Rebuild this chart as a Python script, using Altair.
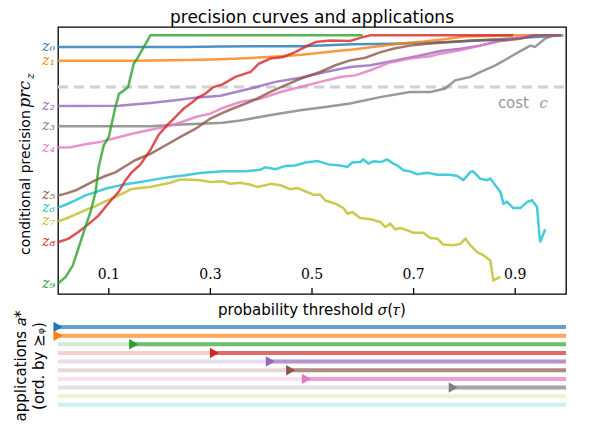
import altair as alt
import pandas as pd

# ---------------- data ----------------
series_names = ["z0", "z1", "z2", "z3", "z4", "z5", "z6", "z7", "z8", "z9"]
series_labels = ["z₀", "z₁", "z₂", "z₃", "z₄", "z₅", "z₆", "z₇", "z₈", "z₉"]
series_colors = ["#1f77b4", "#ff7f0e", "#9467bd", "#7f7f7f", "#e377c2",
                 "#8c564b", "#17becf", "#bcbd22", "#d62728", "#2ca02c"]

z0_x = [0, 0.25, 0.32, 0.48, 0.58, 0.66, 0.77, 0.85, 0.91, 0.96, 0.995]
z0_y = [0.955, 0.955, 0.957, 0.958, 0.965, 0.967, 0.974, 0.982, 0.99, 0.995, 1.0]

z1_x = [0, 0.15, 0.26, 0.32, 0.38, 0.43, 0.48, 0.53, 0.58, 0.62, 0.67, 0.72, 0.76, 0.8, 0.9, 0.99]
z1_y = [0.902, 0.902, 0.904, 0.907, 0.912, 0.918, 0.925, 0.935, 0.945, 0.955, 0.967, 0.976, 0.985, 0.995, 1.0, 1.0]

z2_x = [0, 0.12, 0.182, 0.231, 0.271, 0.32, 0.379, 0.428, 0.477, 0.526, 0.575, 0.615, 0.664,
        0.713, 0.753, 0.792, 0.831, 0.871, 0.91, 0.949, 0.99]
z2_y = [0.727, 0.728, 0.738, 0.749, 0.759, 0.766, 0.794, 0.82, 0.836, 0.858, 0.877, 0.884, 0.903,
        0.922, 0.939, 0.948, 0.96, 0.98, 0.99, 1.0, 1.0]

z3_x = [0, 0.182, 0.231, 0.28, 0.324, 0.359, 0.389, 0.428, 0.477, 0.526, 0.575, 0.634, 0.693, 0.733,
        0.762, 0.782, 0.812, 0.831, 0.861, 0.89, 0.91, 0.93, 0.939, 0.959, 0.975, 0.99]
z3_y = [0.648, 0.648, 0.654, 0.658, 0.662, 0.671, 0.681, 0.695, 0.71, 0.723, 0.736, 0.761, 0.781, 0.781,
        0.794, 0.826, 0.839, 0.858, 0.884, 0.916, 0.939, 0.96, 0.955, 0.987, 1.0, 1.0]

z4_x = [0, 0.025, 0.054, 0.084, 0.113, 0.152, 0.192, 0.231, 0.271, 0.3, 0.324, 0.359, 0.398, 0.438,
        0.477, 0.516, 0.556, 0.585, 0.615, 0.654, 0.693, 0.733, 0.753, 0.792, 0.831, 0.871, 0.91, 0.93, 0.994]
z4_y = [0.566, 0.567, 0.579, 0.588, 0.603, 0.622, 0.639, 0.656, 0.684, 0.697, 0.719, 0.742, 0.755, 0.781,
        0.8, 0.82, 0.839, 0.845, 0.865, 0.895, 0.91, 0.919, 0.929, 0.942, 0.96, 0.978, 0.993, 1.0, 1.0]

z5_x = [0, 0.015, 0.034, 0.054, 0.074, 0.093, 0.113, 0.129, 0.152, 0.182, 0.212, 0.241, 0.271, 0.3,
        0.324, 0.343, 0.369, 0.392, 0.418, 0.448, 0.477, 0.516, 0.546, 0.575, 0.605, 0.635, 0.664,
        0.693, 0.733, 0.772, 0.812, 0.851, 0.88, 0.91, 0.939, 0.99]
z5_y = [0.381, 0.388, 0.4, 0.42, 0.44, 0.456, 0.47, 0.49, 0.517, 0.542, 0.575, 0.607, 0.639, 0.678,
        0.7, 0.716, 0.736, 0.755, 0.781, 0.807, 0.832, 0.858, 0.884, 0.903, 0.913, 0.935, 0.95,
        0.96, 0.968, 0.974, 0.98, 0.983, 0.981, 0.987, 1.0, 1.0]

z6_x = [0, 0.015, 0.034, 0.054, 0.074, 0.093, 0.113, 0.133, 0.162, 0.192, 0.221, 0.251, 0.28, 0.324,
        0.369, 0.398, 0.408, 0.428, 0.448, 0.467, 0.487, 0.511, 0.532, 0.556, 0.57, 0.579, 0.595,
        0.601, 0.611, 0.621, 0.635, 0.648, 0.66, 0.668, 0.68, 0.693, 0.707, 0.727, 0.747, 0.772,
        0.786, 0.798, 0.812, 0.817, 0.831, 0.845, 0.851, 0.871, 0.877, 0.884, 0.896, 0.91, 0.924,
        0.933, 0.943, 0.949, 0.959]
z6_y = [0.334, 0.345, 0.362, 0.381, 0.394, 0.407, 0.416, 0.424, 0.433, 0.443, 0.452, 0.459, 0.468, 0.474,
        0.474, 0.48, 0.49, 0.482, 0.495, 0.497, 0.508, 0.514, 0.501, 0.497, 0.491, 0.508, 0.51,
        0.52, 0.504, 0.513, 0.51, 0.52, 0.504, 0.497, 0.478, 0.474, 0.463, 0.469, 0.461, 0.461,
        0.456, 0.44, 0.472, 0.474, 0.446, 0.44, 0.446, 0.394, 0.349, 0.356, 0.332, 0.332, 0.356,
        0.362, 0.336, 0.2, 0.25]

z7_x = [0, 0.015, 0.034, 0.054, 0.074, 0.093, 0.113, 0.133, 0.143, 0.162, 0.182, 0.202, 0.221, 0.241,
        0.261, 0.28, 0.3, 0.324, 0.339, 0.359, 0.379, 0.392, 0.408, 0.418, 0.438, 0.457, 0.471, 0.487,
        0.503, 0.516, 0.526, 0.546, 0.562, 0.57, 0.579, 0.595, 0.615, 0.635, 0.644, 0.654, 0.664,
        0.674, 0.688, 0.699, 0.719, 0.733, 0.747, 0.758, 0.778, 0.792, 0.802, 0.812, 0.825, 0.837,
        0.851, 0.857, 0.871]
z7_y = [0.281, 0.291, 0.307, 0.324, 0.34, 0.358, 0.375, 0.394, 0.405, 0.41, 0.414, 0.422, 0.43, 0.443,
        0.442, 0.44, 0.433, 0.436, 0.426, 0.43, 0.422, 0.414, 0.42, 0.426, 0.42, 0.405, 0.41, 0.397,
        0.384, 0.384, 0.362, 0.349, 0.332, 0.31, 0.317, 0.294, 0.289, 0.278, 0.259, 0.272, 0.25,
        0.255, 0.246, 0.237, 0.237, 0.216, 0.214, 0.191, 0.188, 0.194, 0.214, 0.188, 0.162, 0.15,
        0.13, 0.053, 0.066]

z8_x = [0, 0.021, 0.04, 0.06, 0.08, 0.099, 0.119, 0.133, 0.145, 0.162, 0.182, 0.198, 0.215, 0.231,
        0.247, 0.265, 0.276, 0.29, 0.306, 0.324, 0.349, 0.379, 0.395, 0.418, 0.444, 0.467, 0.487,
        0.507, 0.536, 0.575, 0.595, 0.615, 0.75, 0.896]
z8_y = [0.2, 0.214, 0.24, 0.27, 0.304, 0.35, 0.394, 0.44, 0.47, 0.5, 0.557, 0.615, 0.653, 0.684,
        0.716, 0.742, 0.76, 0.774, 0.8, 0.81, 0.839, 0.858, 0.89, 0.91, 0.916, 0.935, 0.955,
        0.974, 0.98, 0.978, 0.99, 1.0, 1.0, 1.0]

z9_x = [0, 0.015, 0.029, 0.04, 0.054, 0.064, 0.074, 0.08, 0.09, 0.1, 0.113, 0.12, 0.126, 0.138,
        0.149, 0.156, 0.169, 0.182, 0.4, 0.6]
z9_y = [0.04, 0.066, 0.11, 0.175, 0.26, 0.317, 0.394, 0.49, 0.575, 0.607, 0.723, 0.774, 0.781, 0.8,
        0.89, 0.91, 0.955, 1.0, 1.0, 1.0]

curve_x = [z0_x, z1_x, z2_x, z3_x, z4_x, z5_x, z6_x, z7_x, z8_x, z9_x]
curve_y = [z0_y, z1_y, z2_y, z3_y, z4_y, z5_y, z6_y, z7_y, z8_y, z9_y]

cost = 0.8
x_ticks = [0.1, 0.3, 0.5, 0.7, 0.9]
y_ticks = [0.0, 0.2, 0.4, 0.6, 0.8, 1.0]

# applications, ordered; start = threshold where the application becomes active
app_order = ["z0", "z1", "z9", "z8", "z2", "z5", "z4", "z3", "z7", "z6"]
app_start = [0.0, 0.0, 0.149, 0.308, 0.418, 0.458, 0.489, 0.778, None, None]

# ---------------- tables ----------------
rows = []
for name, xs, ys in zip(series_names, curve_x, curve_y):
    for xv, yv in zip(xs, ys):
        rows.append({"series": name, "x": xv, "y": yv})
curves = pd.DataFrame(rows)

starts = pd.DataFrame({
    "series": series_names,
    "label": series_labels,
    "x": [xs[0] for xs in curve_x],
    "y": [ys[0] for ys in curve_y],
})

cost_df = pd.DataFrame({"x0": [0.0], "x1": [1.0], "c": [cost]})
ticks_df = pd.DataFrame({"t": x_ticks})
one = pd.DataFrame({"k": [0]})

apps = pd.DataFrame({
    "row": list(range(len(app_order))),
    "series": app_order,
    "start": app_start,
    "x0": [0.0] * len(app_order),
    "x1": [1.0] * len(app_order),
})
apps_active = apps.dropna(subset=["start"])

# ---------------- scales / axes ----------------
W = 508
H = 267
HB = 88
x_scale = alt.Scale(domain=[0, 1], nice=False, zero=False)
y_scale = alt.Scale(domain=[0, 1.032], nice=False, zero=False)
color_scale = alt.Scale(domain=series_names, range=series_colors)

SANS = "DejaVu Sans"
SERIF = "DejaVu Serif"

right_axis = alt.Axis(orient="right", values=y_ticks, format=".1f", grid=False,
                      labelFont=SERIF, labelFontSize=14, labelColor="black", labelPadding=6,
                      tickSize=5, tickColor="black", tickWidth=1.3,
                      domainColor="black", domainWidth=1.3, title=None)

# ---------------- top panel ----------------
cost_rule = alt.Chart(cost_df).mark_rule(color="#d0d0d0", strokeWidth=3, strokeDash=[10, 6]).encode(
    x=alt.X("x0:Q", scale=x_scale, axis=None),
    x2="x1:Q",
    y=alt.Y("c:Q", scale=y_scale, axis=right_axis),
)

lines = alt.Chart(curves).mark_line(strokeWidth=2.5, opacity=0.8).encode(
    x=alt.X("x:Q", scale=x_scale, axis=None),
    y=alt.Y("y:Q", scale=y_scale, axis=None),
    color=alt.Color("series:N", scale=color_scale, legend=None),
)

zlabels = alt.Chart(starts).mark_text(align="right", baseline="middle", dx=-3, font=SERIF,
                                      fontStyle="italic", fontSize=14).encode(
    x=alt.X("x:Q", scale=x_scale, axis=None),
    y=alt.Y("y:Q", scale=y_scale, axis=None),
    text="label:N",
    color=alt.Color("series:N", scale=color_scale, legend=None),
)

tick_labels = alt.Chart(ticks_df).mark_text(font=SERIF, fontSize=14, color="black",
                                            baseline="alphabetic").encode(
    x=alt.X("t:Q", scale=x_scale, axis=None),
    y=alt.value(H - 15),
    text=alt.Text("t:Q", format=".1f"),
)

tick_marks = alt.Chart(ticks_df).mark_rule(color="black", strokeWidth=1.3).encode(
    x=alt.X("t:Q", scale=x_scale, axis=None),
    y=alt.value(H - 6),
    y2=alt.value(H),
)

cost_word = alt.Chart(cost_df).mark_text(font=SANS, fontSize=15, color="#999999", align="right",
                                         baseline="alphabetic", dx=-37, dy=21).encode(
    x=alt.X("x1:Q", scale=x_scale, axis=None),
    y=alt.Y("c:Q", scale=y_scale, axis=None),
    text=alt.value("cost"),
)
cost_sym = alt.Chart(cost_df).mark_text(font=SERIF, fontSize=15, fontStyle="italic", color="#999999",
                                        align="right", baseline="alphabetic", dx=-18, dy=21).encode(
    x=alt.X("x1:Q", scale=x_scale, axis=None),
    y=alt.Y("c:Q", scale=y_scale, axis=None),
    text=alt.value("c"),
)

x_title = alt.Chart(one).mark_text(font=SANS, fontSize=15, color="black", align="center",
                                   baseline="alphabetic").encode(
    x=alt.value(W / 2), y=alt.value(H + 21), text=alt.value("probability threshold 𝜎(𝜏)"),
)
y_title_a = alt.Chart(one).mark_text(font=SANS, fontSize=14, color="black", align="left",
                                     baseline="alphabetic", angle=270).encode(
    x=alt.value(-28), y=alt.value(228), text=alt.value("conditional precision"),
)
y_title_b = alt.Chart(one).mark_text(font=SERIF, fontSize=16, fontStyle="italic", color="black",
                                     align="left", baseline="alphabetic", angle=270).encode(
    x=alt.value(-28), y=alt.value(81), text=alt.value("prc"),
)
y_title_c = alt.Chart(one).mark_text(font=SERIF, fontSize=11, fontStyle="italic", color="black",
                                     align="left", baseline="alphabetic", angle=270).encode(
    x=alt.value(-24), y=alt.value(52), text=alt.value("z"),
)

top = alt.layer(cost_rule, lines, zlabels, tick_marks, tick_labels, cost_word, cost_sym,
                x_title, y_title_a, y_title_b, y_title_c).properties(
    width=W, height=H,
    title=alt.TitleParams(text="precision curves and applications", font=SANS, fontSize=17,
                          fontWeight="normal", color="black", anchor="middle", frame="group",
                          offset=0),
    view=alt.ViewBackground(stroke="black", strokeWidth=1.3),
)

# ---------------- bottom panel ----------------
row_scale = alt.Scale(domain=[-0.58, 9.6], reverse=True, nice=False, zero=False)

light = alt.Chart(apps).mark_rule(strokeWidth=4, opacity=0.22).encode(
    x=alt.X("x0:Q", scale=x_scale, axis=None),
    x2="x1:Q",
    y=alt.Y("row:Q", scale=row_scale, axis=None),
    color=alt.Color("series:N", scale=color_scale, legend=None),
)
dark = alt.Chart(apps_active).mark_rule(strokeWidth=4, opacity=0.6).encode(
    x=alt.X("start:Q", scale=x_scale, axis=None),
    x2="x1:Q",
    y=alt.Y("row:Q", scale=row_scale, axis=None),
    color=alt.Color("series:N", scale=color_scale, legend=None),
)
tri = alt.Chart(apps_active).mark_point(shape="triangle-right", filled=True, size=110, opacity=1).encode(
    x=alt.X("start:Q", scale=x_scale, axis=None),
    y=alt.Y("row:Q", scale=row_scale, axis=None),
    color=alt.Color("series:N", scale=color_scale, legend=None),
)
b_title_1 = alt.Chart(one).mark_text(font=SANS, fontSize=15, color="black", align="center",
                                     baseline="alphabetic", angle=270).encode(
    x=alt.value(-32), y=alt.value(HB / 2), text=alt.value("applications 𝑎*"),
)
b_title_2 = alt.Chart(one).mark_text(font=SANS, fontSize=15, color="black", align="center",
                                     baseline="alphabetic", angle=270).encode(
    x=alt.value(-14), y=alt.value(HB / 2), text=alt.value("(ord. by ⪰ᵩ)"),
)

bottom = alt.layer(light, dark, tri, b_title_1, b_title_2).properties(
    width=W, height=HB,
    view=alt.ViewBackground(stroke="transparent"),
)

chart = alt.vconcat(top, bottom, spacing=28, bounds="flush").properties(
    padding={"left": 5, "top": 0, "right": 5, "bottom": 5},
    background="white",
)

chart.save("out.html", embed_options={"renderer": "svg", "actions": False})
